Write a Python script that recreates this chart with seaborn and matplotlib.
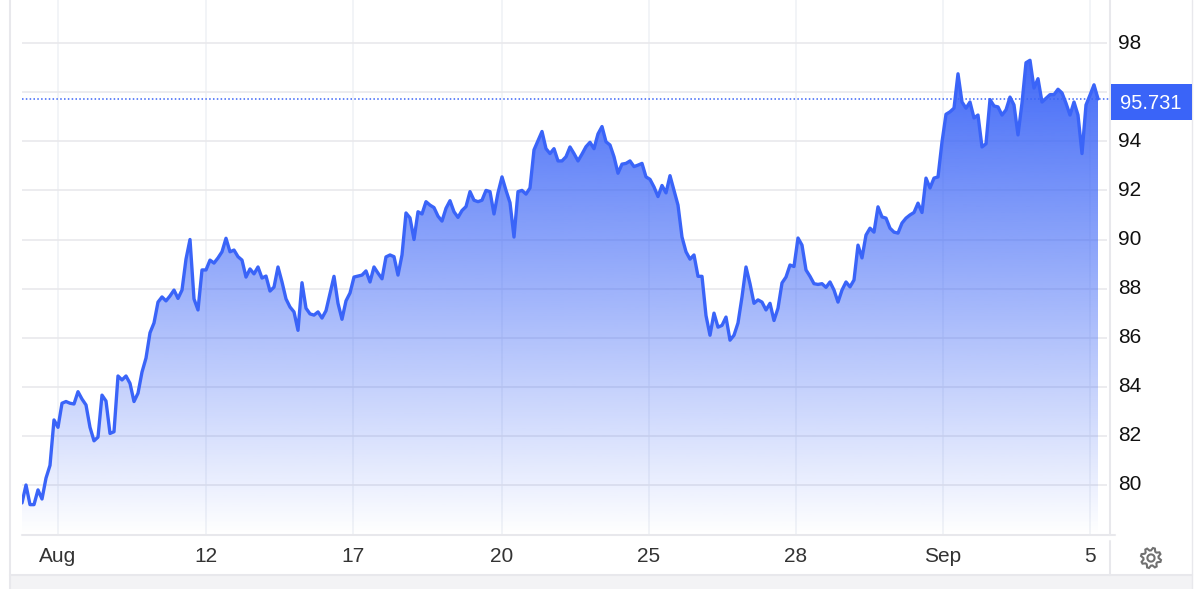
import numpy as np
import pandas as pd
import matplotlib
matplotlib.use("Agg")
import matplotlib.pyplot as plt
import seaborn as sns
from matplotlib.lines import Line2D
from matplotlib.patches import Rectangle, PathPatch
from matplotlib.path import Path

# price, one reading per sample
price = [
    79.27, 80.0, 79.2, 79.2, 79.8, 79.43, 80.28, 80.8, 82.65, 82.35,
    83.33, 83.4, 83.33, 83.3, 83.8, 83.5, 83.26, 82.35, 81.8, 81.95,
    83.66, 83.42, 82.1, 82.17, 84.44, 84.28, 84.44, 84.14, 83.4, 83.74,
    84.6, 85.17, 86.2, 86.6, 87.45, 87.66, 87.5, 87.7, 87.94, 87.6,
    87.94, 89.2, 90.0, 87.58, 87.13, 88.76, 88.76, 89.16, 89.04, 89.25,
    89.5, 90.05, 89.5, 89.57, 89.3, 89.16, 88.47, 88.8, 88.6, 88.88,
    88.43, 88.51, 87.9, 88.06, 88.88, 88.27, 87.58, 87.25, 87.05, 86.3,
    88.24, 87.2, 86.97, 86.92, 87.05, 86.8, 87.1, 87.8, 88.5, 87.4,
    86.75, 87.5, 87.82, 88.47, 88.51, 88.55, 88.72, 88.27, 88.88, 88.63,
    88.4, 89.29, 89.37, 89.3, 88.55, 89.37, 91.08, 90.88, 90.0, 91.13,
    91.04, 91.54, 91.4, 91.3, 90.95, 90.75, 91.27, 91.58, 91.13, 90.9,
    91.18, 91.34, 91.95, 91.6, 91.54, 91.6, 92.0, 91.95, 91.04, 91.9,
    92.55, 92.0, 91.5, 90.1, 91.95, 92.0, 91.85, 92.1, 93.65, 94.02,
    94.4, 93.7, 93.5, 93.7, 93.2, 93.2, 93.37, 93.77, 93.5, 93.2,
    93.48, 93.78, 93.96, 93.7, 94.3, 94.6, 93.98, 93.85, 93.37, 92.7,
    93.07, 93.1, 93.2, 92.97, 93.03, 93.1, 92.55, 92.45, 92.14, 91.75,
    92.2, 91.9, 92.6, 92.0, 91.4, 90.1, 89.5, 89.2, 89.37, 88.5,
    88.5, 86.9, 86.1, 87.0, 86.43, 86.5, 86.84, 85.9, 86.1, 86.6,
    87.66, 88.88, 88.2, 87.4, 87.54, 87.45, 87.13, 87.4, 86.7, 87.2,
    88.23, 88.47, 88.96, 88.9, 90.06, 89.77, 88.76, 88.5, 88.2, 88.17,
    88.2, 88.05, 88.27, 87.94, 87.45, 87.94, 88.27, 88.07, 88.35, 89.77,
    89.25, 90.18, 90.46, 90.3, 91.33, 90.92, 90.87, 90.46, 90.3, 90.26,
    90.67, 90.87, 91.0, 91.1, 91.48, 91.1, 92.5, 92.1, 92.5, 92.55,
    93.97, 95.1, 95.2, 95.35, 96.75, 95.6, 95.35, 95.6, 94.95, 95.07,
    93.77, 93.9, 95.7, 95.44, 95.4, 95.07, 95.28, 95.8, 95.48, 94.26,
    95.56, 97.2, 97.3, 96.17, 96.55, 95.6, 95.75, 95.9, 95.9, 96.12,
    95.97, 95.55, 95.07, 95.6, 95.07, 93.5, 95.48, 95.88, 96.3, 95.73,
]
last_price = 95.731
y_ticks = [80, 82, 84, 86, 88, 90, 92, 94, 96, 98]
x_labels = ["Aug", "12", "17", "20", "25", "28", "Sep", "5"]
x_label_samples = [9, 46, 82.75, 120, 156.75, 193.5, 230.25, 267]

BLUE = "#3a64f8"
W, H = 1200, 589


def fx(px):
    return px / W


def fy(px):
    return 1 - px / H


sns.set_theme(style="white")
plt.rcParams["font.family"] = ["Liberation Sans", "DejaVu Sans"]

df = pd.DataFrame({"sample": np.arange(len(price)), "price": price})

fig = plt.figure(figsize=(12, 5.89), dpi=100, facecolor="white")

# axes run from pixel 22 to 1110 and from the top down to the x axis at 535
ax = fig.add_axes([fx(22), fy(535), fx(1110) - fx(22), fy(0) - fy(535)])
ax.set_xlim(0, (1110 - 22) / 4)
ax.set_ylim(80 - 50 / 24.55, 80 + 485 / 24.55)

# grid
for s in x_label_samples:
    ax.axvline(s, color="#f1f3f7", lw=1.3, zorder=1)
ax.hlines(y_ticks, 0, (1107 - 22) / 4, color="#e9e9ec", lw=1.2, zorder=1)

# gradient area under the line
y_bottom = ax.get_ylim()[0]
rgb = matplotlib.colors.to_rgb("#3d66f7")
alpha = np.linspace(0.97, 0.0, 256).reshape(-1, 1)
grad = np.dstack([np.full_like(alpha, c) for c in rgb] + [alpha])
im = ax.imshow(
    grad,
    extent=[0, len(price) - 1, y_bottom, 97.3],
    aspect="auto",
    origin="upper",
    zorder=2,
)
area = ax.fill_between(df["sample"], df["price"], y_bottom, color="none")
clip = area.get_paths()[0]
im.set_clip_path(clip, transform=ax.transData)
ax.set_xlim(0, (1110 - 22) / 4)
ax.set_ylim(80 - 50 / 24.55, 80 + 485 / 24.55)

sns.lineplot(data=df, x="sample", y="price", color=BLUE, lw=2.4, ax=ax, zorder=3,
             solid_joinstyle="round")

ax.axhline(last_price, color=BLUE, lw=1.1, ls=(0, (1, 1.5)), zorder=4)

# axes text
ax.yaxis.tick_right()
ax.set_yticks(y_ticks)
ax.set_yticklabels([str(t) for t in y_ticks], fontsize=15, color="#111111", va="center")
ax.set_xticks(x_label_samples)
ax.set_xticklabels(x_labels, fontsize=15, color="#333333")
ax.tick_params(axis="y", length=0, pad=6)
ax.tick_params(axis="x", length=0, pad=9)
ax.set_xlabel("")
ax.set_ylabel("")
for sp in ax.spines.values():
    sp.set_visible(False)

# frame around the widget
frame = "#e8e8ec"
fig.add_artist(Rectangle((fx(10), 0), fx(1192) - fx(10), fy(575), color="#f3f3f5", lw=0, zorder=1))
fig.add_artist(Line2D([fx(10), fx(10)], [0, 1], color=frame, lw=1.5))
fig.add_artist(Line2D([fx(1192), fx(1192)], [0, 1], color=frame, lw=1))
fig.add_artist(Line2D([fx(10), fx(1192)], [fy(575), fy(575)], color=frame, lw=1.5))
fig.add_artist(Line2D([fx(22), fx(1115)], [fy(535), fy(535)], color=frame, lw=1.5))
fig.add_artist(Line2D([fx(1110), fx(1110)], [1, fy(535)], color=frame, lw=1.5))
fig.add_artist(Line2D([fx(1110), fx(1110)], [fy(541), fy(575)], color=frame, lw=1.5))

# last price box
fig.add_artist(Rectangle((fx(1111), fy(120)), fx(81), 36 / H, color=BLUE, lw=0, zorder=2))
fig.text(fx(1151), fy(103.5), f"{last_price:.3f}", color="white", fontsize=14.5,
         ha="center", va="center", zorder=3)

# settings gear
teeth = 8
angles = np.linspace(0, 2 * np.pi, teeth * 4, endpoint=False) + np.pi / 16
radii = np.tile([10.2, 10.2, 7.6, 7.6], teeth)
gx = 1151 + radii * np.cos(angles)
gy = 558 + radii * np.sin(angles)
gear = np.column_stack([gx, H - gy])
fig.add_artist(PathPatch(Path(np.vstack([gear, gear[0]]), closed=True), fill=False, ec="#707070",
                         lw=1.5, transform=None, zorder=3))
t = np.linspace(0, 2 * np.pi, 40)
hole = np.column_stack([1151 + 3.6 * np.cos(t), H - 558 + 3.6 * np.sin(t)])
fig.add_artist(PathPatch(Path(hole), fill=False, ec="#707070", lw=1.5, transform=None, zorder=3))

fig.savefig("out.png", dpi=100)
